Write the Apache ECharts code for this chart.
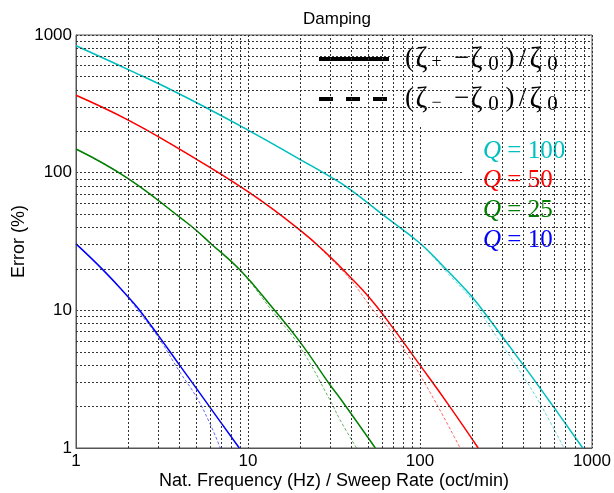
<!DOCTYPE html>
<html>
<head>
<meta charset="utf-8">
<script src="https://cdn.jsdelivr.net/npm/echarts@6/dist/echarts.min.js"></script>
<style>
  html, body { margin: 0; padding: 0; background: #fff; }
  #chart { width: 614px; height: 493px; }
</style>
</head>
<body>
<div id="chart"></div>
<script>
// values: [frequency/rate, error %]
const q100Plus = [[1, 836], [2, 563], [4, 373], [10, 204], [20, 125], [30, 93.6], [39, 76], [61, 49.3], [100, 30.7], [136, 21], [156, 17.6], [200, 12.6], [255, 8.5], [399, 4.0], [596, 2.0], [883, 1.0]]
const q100Minus = [[1, 836], [2, 563], [4, 373], [10, 204], [20, 125], [30, 93.6], [39, 76], [61, 49.3], [100, 30.5], [156, 16.8], [200, 12], [255, 7.6], [399, 3.3], [499, 2.1], [687, 1.0]]
const q50Plus = [[1, 365], [2, 242], [4, 148], [10, 72.8], [20, 38.4], [30, 24.5], [39, 17.6], [51, 12.3], [64, 8.6], [100, 4.0], [149, 2.0], [218, 1.0]]
const q50Minus = [[1, 365], [2, 242], [4, 148], [10, 72.8], [20, 38.2], [30, 24], [40, 16.3], [53.5, 10], [67, 7.2], [100, 3.4], [171, 1.0]]
const q25Plus = [[1, 148.6], [2, 91], [4.2, 45.4], [4.92, 38.8], [6, 31], [9, 19.6], [14, 10.3], [20, 5.93], [30, 2.87], [34.3, 2.3], [55, 1.0]]
const q25Minus = [[1, 148.6], [2, 91], [4.2, 45.4], [6, 31], [9, 19.4], [14, 9.7], [20, 5.45], [30, 2.23], [34.3, 1.6], [42.8, 1.0]]
const q10Plus = [[1, 30.4], [1.44, 19.6], [2, 12.6], [2.3, 10.3], [3, 6.6], [4, 4.0], [5, 2.72], [6, 1.98], [8.9, 1.0]]
const q10Minus = [[1, 30.4], [1.44, 19.6], [2, 12.5], [2.3, 9.9], [3, 6.4], [4, 3.59], [5, 2.36], [6, 1.51], [6.9, 1.0]]

const qValues = ['100', '50', '25', '10']
const qColors = ['#00bfbf', '#ff0000', '#008000', '#0000ff']
const plusData = [q100Plus, q50Plus, q25Plus, q10Plus]
const minusData = [q100Minus, q50Minus, q25Minus, q10Minus]

// minor grid lines of the log axes
const minorSteps = [2, 3, 4, 5, 6, 7, 8, 9]
const decades = [1, 10, 100]
const minorTicks = decades.flatMap(d => minorSteps.map(k => k * d))

const sans = 'Liberation Sans'
const serif = 'Liberation Serif'
const gridLine = { color: '#333', type: [2, 2], width: 1 }

const series = [{
  type: 'line',
  data: [[1, 1]],
  symbol: 'none',
  lineStyle: { width: 0 },
  silent: true,
  z: 1,
  markLine: {
    silent: true,
    symbol: 'none',
    label: { show: false },
    lineStyle: gridLine,
    animation: false,
    data: minorTicks.map(v => ({ xAxis: v })).concat(minorTicks.map(v => ({ yAxis: v })))
  }
}]

qValues.forEach((v, i) => {
  series.push({
    name: 'Q' + v + ' minus',
    type: 'line',
    data: minusData[i],
    symbol: 'none',
    smooth: 0.45,
    z: 3,
    lineStyle: { color: qColors[i], width: 1, type: [3, 2], opacity: 0.6 }
  })
  series.push({
    name: 'Q' + v + ' plus',
    type: 'line',
    data: plusData[i],
    symbol: 'none',
    smooth: 0.45,
    z: 4,
    lineStyle: { color: qColors[i], width: 1.5 }
  })
})

// legend glyphs: [char, centre x, offset from line centre, font size]
const legendPlus = [['(', 409.5, 0, 27], ['ζ', 421.5, 0, 29], ['+', 436.5, 3, 18], ['−', 461.5, 0, 27], ['ζ', 476.5, 0, 29],
  ['0', 493.5, 5, 21], [')', 510, 0, 27], ['/', 522.5, 0, 27], ['ζ', 535.5, 0, 29], ['0', 552.5, 5, 21]]
const legendMinus = legendPlus.map(g => g[0] === '+' ? ['−', g[1], 4, 18] : g)

const graphic = [
  { type: 'rect', z: 2, silent: true, shape: { x: 281, y: 36, width: 310, height: 91 }, style: { fill: '#fff' } },
  { type: 'rect', z: 2, silent: true, shape: { x: 462, y: 127, width: 129, height: 138 }, style: { fill: '#fff' } },
  { type: 'line', z: 5, shape: { x1: 319, y1: 59, x2: 389, y2: 59 }, style: { stroke: '#000', lineWidth: 4 } },
  { type: 'line', z: 5, shape: { x1: 319, y1: 99, x2: 389, y2: 99 }, style: { stroke: '#000', lineWidth: 4, lineDash: [14, 13] } }
]

;[[legendPlus, 59], [legendMinus, 99]].forEach(([glyphs, y0]) => {
  glyphs.forEach(g => {
    graphic.push({
      type: 'text', z: 5, x: g[1], y: y0 + g[2],
      style: { text: g[0], fontFamily: serif, fontSize: g[3], fill: '#000', align: 'center', verticalAlign: 'middle' }
    })
  })
})

qValues.forEach((v, i) => {
  graphic.push({
    type: 'text', z: 5, x: 483, y: 151 + i * 29.8,
    style: {
      text: '{q|Q}{t| = ' + v + '}',
      verticalAlign: 'middle',
      align: 'left',
      rich: {
        q: { fontFamily: serif, fontSize: 25, fontStyle: 'italic', fill: qColors[i] },
        t: { fontFamily: serif, fontSize: 25, fill: qColors[i] }
      }
    }
  })
})

const option = {
  backgroundColor: '#fff',
  animation: false,
  title: {
    text: 'Damping',
    left: 298,
    top: 6,
    textStyle: { fontFamily: sans, fontSize: 17, fontWeight: 'normal', color: '#000' }
  },
  grid: {
    left: 76, right: 22, top: 35, bottom: 45,
    outerBoundsMode: 'none',
    show: true, borderColor: '#555', borderWidth: 1
  },
  xAxis: {
    type: 'log',
    logBase: 10,
    min: 1,
    max: 1000,
    name: 'Nat. Frequency (Hz) / Sweep Rate (oct/min)',
    nameLocation: 'middle',
    nameGap: 24,
    nameMoveOverlap: false,
    nameTextStyle: { fontFamily: sans, fontSize: 18, color: '#000' },
    axisLine: { lineStyle: { color: '#555' } },
    axisTick: { show: false },
    axisLabel: { fontFamily: sans, fontSize: 17, color: '#000', margin: 5, formatter: v => String(v) },
    splitLine: { show: true, lineStyle: gridLine }
  },
  yAxis: {
    type: 'log',
    logBase: 10,
    min: 1,
    max: 1000,
    name: 'Error (%)',
    nameLocation: 'middle',
    nameGap: 48,
    nameMoveOverlap: false,
    nameTextStyle: { fontFamily: sans, fontSize: 18, color: '#000' },
    axisLine: { lineStyle: { color: '#555' } },
    axisTick: { show: false },
    axisLabel: { fontFamily: sans, fontSize: 17, color: '#000', margin: 4, formatter: v => String(v) },
    splitLine: { show: true, lineStyle: gridLine }
  },
  series: series,
  graphic: graphic
}

const myChart = echarts.init(document.getElementById('chart'))
myChart.setOption(option)
</script>
</body>
</html>
